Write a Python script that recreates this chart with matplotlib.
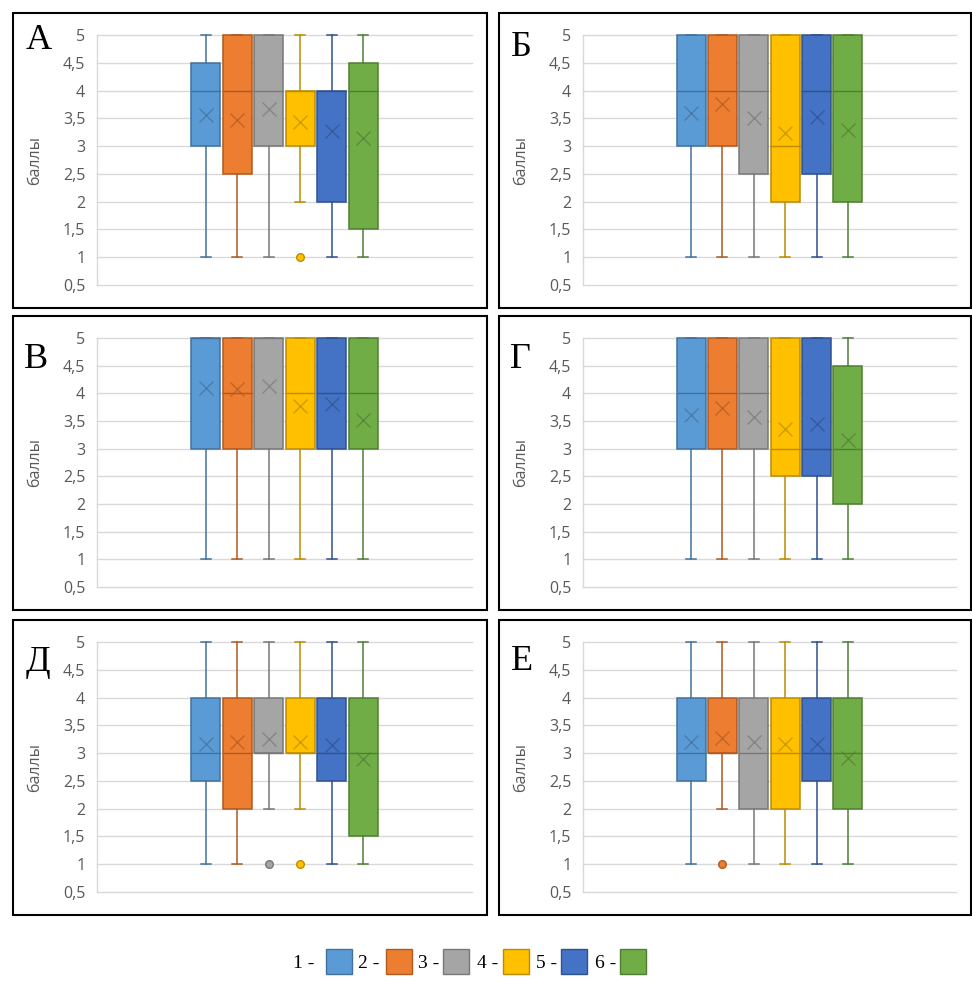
import matplotlib.pyplot as plt
from matplotlib.patches import Rectangle

W, H = 972, 997

panels = ['А', 'Б', 'В', 'Г', 'Д', 'Е']
series = ['1 -', '2 -', '3 -', '4 -', '5 -', '6 -']
colors = ['#5B9BD5', '#ED7D31', '#A5A5A5', '#FFC000', '#4472C4', '#70AD47']
dark = ['#41719C', '#AE5A21', '#787878', '#BC8C00', '#2F528F', '#507E32']

# box statistics, one row per panel, one value per series
whis_lo = [[1, 1, 1, 2, 1, 1],
           [1, 1, 1, 1, 1, 1],
           [1, 1, 1, 1, 1, 1],
           [1, 1, 1, 1, 1, 1],
           [1, 1, 2, 2, 1, 1],
           [1, 2, 1, 1, 1, 1]]
q1 = [[3, 2.5, 3, 3, 2, 1.5],
      [3, 3, 2.5, 2, 2.5, 2],
      [3, 3, 3, 3, 3, 3],
      [3, 3, 3, 2.5, 2.5, 2],
      [2.5, 2, 3, 3, 2.5, 1.5],
      [2.5, 3, 2, 2, 2.5, 2]]
median = [[4, 4, 4, 4, 4, 4],
          [4, 4, 4, 3, 4, 4],
          [5, 4, 5, 4, 4, 4],
          [4, 4, 4, 3, 3, 3],
          [3, 3, 3, 3, 3, 3],
          [3, 3, 3, 3, 3, 3]]
q3 = [[4.5, 5, 5, 4, 4, 4.5],
      [5, 5, 5, 5, 5, 5],
      [5, 5, 5, 5, 5, 5],
      [5, 5, 5, 5, 5, 4.5],
      [4, 4, 4, 4, 4, 4],
      [4, 4, 4, 4, 4, 4]]
whis_hi = [[5, 5, 5, 5, 5, 5]] * 6
means = [[3.56, 3.47, 3.67, 3.43, 3.28, 3.15],
         [3.60, 3.76, 3.51, 3.24, 3.52, 3.29],
         [4.09, 4.07, 4.13, 3.77, 3.80, 3.52],
         [3.61, 3.73, 3.57, 3.36, 3.44, 3.16],
         [3.16, 3.20, 3.25, 3.20, 3.14, 2.89],
         [3.20, 3.28, 3.20, 3.16, 3.16, 2.92]]
# (panel, series): outlier values
outliers = {(0, 3): [1], (4, 2): [1], (4, 3): [1], (5, 1): [1]}

yticks = [0.5, 1, 1.5, 2, 2.5, 3, 3.5, 4, 4.5, 5]
ytick_labels = ['0,5', '1', '1,5', '2', '2,5', '3', '3,5', '4', '4,5', '5']

# panel borders in pixels: left, top, right, bottom
frames = [(13, 13, 487, 308), (499, 13, 971, 308),
          (13, 316, 487, 610), (499, 316, 971, 610),
          (13, 620, 487, 915), (499, 620, 971, 915)]
letter_pos = [(26, 49), (511, 56), (24, 368), (510, 368), (26, 671), (511, 670)]

fig = plt.figure(figsize=(W / 100, H / 100), dpi=100)


def fx(x):
    return x / W


def fy(y):
    return 1 - y / H


for p in range(6):
    L, T, R, B = frames[p]
    fig.patches.append(Rectangle((fx(L), fy(B)), fx(R - L), (B - T) / H,
                                 transform=fig.transFigure, fill=False,
                                 edgecolor='black', linewidth=1.5))
    ax = fig.add_axes([fx(L + 84), fy(B - 23), fx(R - L - 99), (B - T - 45) / H])
    for s in range(6):
        st = dict(whislo=whis_lo[p][s], q1=q1[p][s], med=median[p][s],
                  q3=q3[p][s], whishi=whis_hi[p][s], mean=means[p][s],
                  fliers=outliers.get((p, s), []))
        arts = ax.bxp([st], positions=[s - 2.5], widths=0.92, capwidths=0.32,
                      patch_artist=True, showmeans=True,
                      boxprops=dict(facecolor=colors[s], edgecolor=dark[s], linewidth=1.1),
                      whiskerprops=dict(color=dark[s], linewidth=1.1),
                      capprops=dict(color=dark[s], linewidth=1.1),
                      medianprops=dict(color=dark[s], linewidth=1.0),
                      meanprops=dict(marker='x', markeredgecolor=dark[s], markersize=10,
                                     markeredgewidth=1.0, alpha=0.7),
                      flierprops=dict(marker='o', markerfacecolor=colors[s],
                                      markeredgecolor=dark[s], markersize=5.5))
        for group in arts.values():
            for a in group:
                a.set_clip_on(False)
                a.set_zorder(3)
    ax.set_xlim(-5.95, 5.95)
    ax.set_ylim(0.5, 5)
    ax.set_xticks([])
    ax.set_yticks(yticks)
    ax.set_yticklabels(ytick_labels, family='Open Sans')
    ax.tick_params(axis='y', length=0, pad=8.5, labelcolor='#595959', labelsize=11.5)
    ax.set_axisbelow(True)
    ax.yaxis.grid(True, color='#D9D9D9', linewidth=1.0)
    for gl in ax.get_ygridlines():
        gl.set_clip_on(False)
    for side in ['top', 'right', 'bottom']:
        ax.spines[side].set_visible(False)
    ax.spines['left'].set_color('#D9D9D9')
    ax.spines['left'].set_linewidth(1.0)
    ax.set_ylabel('баллы', family='Open Sans', fontsize=11.5, color='#595959')
    ax.yaxis.set_label_coords(-0.145, 0.5)

    lx, ly = letter_pos[p]
    fig.text(fx(lx), fy(ly), panels[p], family='Liberation Serif', fontsize=26,
             ha='left', va='baseline')

# legend at the bottom: label first, then the colour square
text_x = [293, 358, 418, 477, 536, 595]
box_x = [326, 386, 443, 503, 561, 620]
for s in range(6):
    fig.text(fx(text_x[s]), fy(968), series[s], family='Liberation Serif',
             fontsize=14, ha='left', va='baseline')
    fig.patches.append(Rectangle((fx(box_x[s]), fy(974)), fx(26), 25 / H,
                                 transform=fig.transFigure, facecolor=colors[s],
                                 edgecolor=dark[s], linewidth=1.0))

plt.savefig('out.png', dpi=100)
